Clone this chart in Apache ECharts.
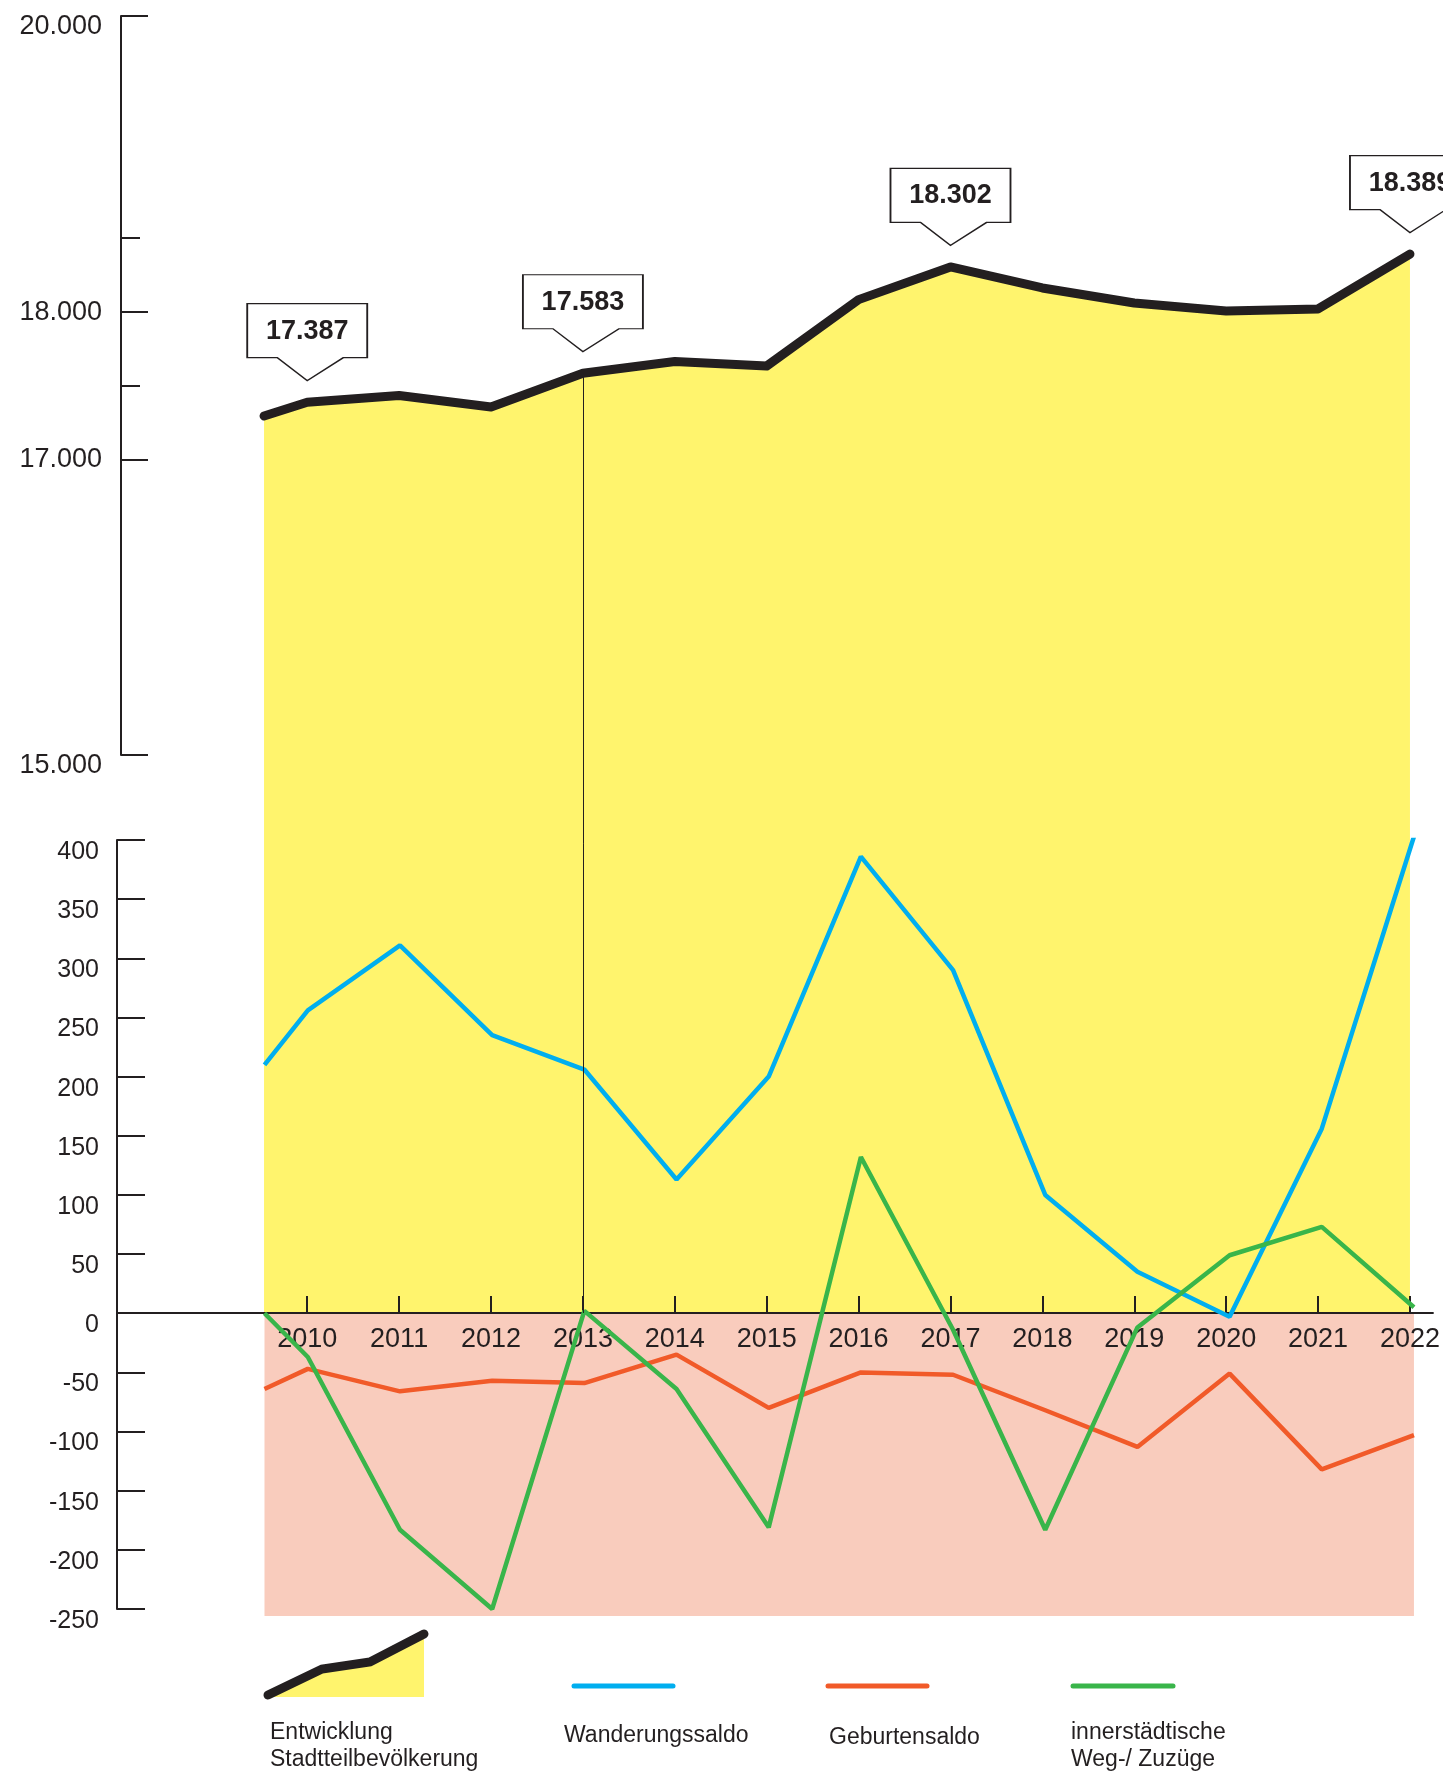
<!DOCTYPE html>
<html>
<head>
<meta charset="utf-8">
<title>Entwicklung Stadtteilbevölkerung</title>
<script src="https://cdn.jsdelivr.net/npm/echarts@6/dist/echarts.min.js"></script>
<style>
html, body { margin: 0; padding: 0; background: #fff; }
#chart { width: 1443px; height: 1772px; }
</style>
</head>
<body>
<div id="chart"></div>
<script>
// first point is the starting value just before 2010
const xValues = [2009.53, 2010, 2011, 2012, 2013, 2014, 2015, 2016, 2017, 2018, 2019, 2020, 2021, 2022];
const yearTicks = [2010, 2011, 2012, 2013, 2014, 2015, 2016, 2017, 2018, 2019, 2020, 2021, 2022];

const population = [17294, 17387, 17432, 17355, 17583, 17662, 17632, 18081, 18302, 18160, 18058, 18004, 18018, 18389];
const migration  = [210, 256, 311, 235, 206, 113, 200, 386, 290, 100, 35, -3, 156, 403];
const births     = [-64, -47, -66, -57, -59, -35, -80, -50, -52, -82, -113, -51, -132, -103];
const intracity  = [0, -37, -183, -250, 2, -64, -181, 132, -14, -183, -12, 49, 73, 5];

const popTicks = [15000, 17000, 18000, 20000];
const popMinorTicks = [17500, 18500];
const calloutYears = [2010, 2013, 2017, 2022];
const markerYear = 2013;
const bandBottom = -256;

const INK = '#231f20';
const YELLOW = '#fff46d';
const PINK = '#f9ccbd';
const BLUE = '#00aeef';
const RED = '#f15a29';
const GREEN = '#39b54a';
const FONT = '"Liberation Sans", Arial, Helvetica, sans-serif';

const fmt = n => String(n).replace(/\B(?=(\d{3})+(?!\d))/g, '.');
const popAt = y => population[xValues.indexOf(y)];
const pairs = arr => xValues.map((x, i) => [x, arr[i]]);

// layout
const gridA = { left: 121, top: 16, width: 1316, height: 739 };   // visible population axis
const gridB = { left: 117, top: 16, width: 1320, height: 1297 };  // yellow area down to zero line + year axis
const gridC = { left: 117, top: 840, width: 1320, height: 769 };  // saldo lines
const gridD = { left: 117, top: 1313, width: 1320, height: 303 }; // pink band below zero
const xMin = 2007.93, xMax = 2022.25;
const popMin = 15000, popMax = 20000;
const popFloor = popMax - (popMax - popMin) * gridB.height / gridA.height;

const axisInk = { color: INK, width: 2 };
const hiddenX = i => ({ gridIndex: i, type: 'value', min: xMin, max: xMax, show: false });

const chart = echarts.init(document.getElementById('chart'));

chart.setOption({
    animation: false,
    backgroundColor: '#fff',
    textStyle: { fontFamily: FONT },
    grid: [gridA, gridB, gridC, gridD],
    xAxis: [
        hiddenX(0),
        {
            gridIndex: 1, type: 'value', min: xMin, max: xMax, position: 'bottom', z: 3,
            axisLine: { onZero: false, lineStyle: axisInk },
            axisTick: { inside: true, length: 17, customValues: yearTicks, lineStyle: axisInk },
            axisLabel: {
                customValues: yearTicks, formatter: v => String(v),
                margin: 13, fontSize: 27, color: INK, fontFamily: FONT
            },
            splitLine: { show: false }
        },
        hiddenX(2),
        hiddenX(3)
    ],
    yAxis: [
        {
            gridIndex: 0, type: 'value', min: popMin, max: popMax, position: 'left',
            axisLine: { show: true, lineStyle: axisInk },
            axisTick: { show: true, inside: true, length: 27, customValues: popTicks, lineStyle: axisInk },
            axisLabel: {
                customValues: popTicks, margin: 19, color: INK, fontFamily: FONT,
                formatter: v => (v === popMin || v === popMax) ? '{edge|' + fmt(v) + '}' : '{mid|' + fmt(v) + '}',
                rich: {
                    edge: { fontSize: 27, color: INK, fontFamily: FONT, padding: [21, 0, 0, 0] },
                    mid: { fontSize: 27, color: INK, fontFamily: FONT, padding: [1, 0, 0, 0] }
                }
            },
            splitLine: { show: false }
        },
        {
            gridIndex: 0, type: 'value', min: popMin, max: popMax, position: 'left',
            axisLine: { show: false },
            axisTick: { show: true, inside: true, length: 19, customValues: popMinorTicks, lineStyle: axisInk },
            axisLabel: { show: false },
            splitLine: { show: false }
        },
        { gridIndex: 1, type: 'value', min: popFloor, max: popMax, show: false },
        {
            gridIndex: 2, type: 'value', min: -250, max: 400, interval: 50,
            axisLine: { show: true, onZero: false, lineStyle: axisInk },
            axisTick: { show: true, inside: true, length: 28, lineStyle: axisInk },
            axisLabel: {
                margin: 18, color: INK, fontFamily: FONT,
                formatter: v => '{v|' + v + '}',
                rich: { v: { fontSize: 25, color: INK, fontFamily: FONT, padding: [24, 0, 0, 0] } }
            },
            splitLine: { show: false }
        },
        { gridIndex: 3, type: 'value', min: bandBottom, max: 0, show: false }
    ],
    series: [
        {
            name: 'Entwicklung Stadtteilbevölkerung',
            type: 'line', xAxisIndex: 1, yAxisIndex: 2, z: 1,
            data: pairs(population),
            showSymbol: false,
            lineStyle: { color: INK, width: 9, cap: 'round', join: 'round' },
            areaStyle: { color: YELLOW, opacity: 1, origin: 'start' },
            markLine: {
                silent: true, symbol: ['none', 'none'],
                label: { show: false },
                lineStyle: { color: INK, width: 1, type: 'solid' },
                data: [[{ coord: [markerYear, popAt(markerYear)] }, { coord: [markerYear, popFloor] }]]
            },
            markPoint: {
                silent: true,
                symbol: 'path://M0,0 L120,0 L120,54 L96,54 L60,77 L30,54 L0,54 Z',
                symbolSize: [120, 77],
                symbolOffset: [0, -60],
                itemStyle: { color: '#fff', borderColor: INK, borderWidth: 1.5 },
                label: {
                    show: true, position: 'inside', offset: [0, -11],
                    formatter: p => fmt(p.value),
                    fontSize: 27, fontWeight: 'bold', color: INK, fontFamily: FONT
                },
                data: calloutYears.map(y => ({ coord: [y, popAt(y)], value: popAt(y) }))
            }
        },
        {
            name: 'Negativbereich', type: 'line', xAxisIndex: 3, yAxisIndex: 4, z: 1,
            data: [], showSymbol: false, silent: true,
            markArea: {
                silent: true,
                itemStyle: { color: PINK, opacity: 1 },
                data: [[{ coord: [xValues[0], 0] }, { coord: [xValues[xValues.length - 1], bandBottom] }]]
            }
        },
        {
            name: 'Wanderungssaldo', type: 'line', xAxisIndex: 2, yAxisIndex: 3, z: 4,
            data: pairs(migration), showSymbol: false,
            lineStyle: { color: BLUE, width: 4.5 }
        },
        {
            name: 'Geburtensaldo', type: 'line', xAxisIndex: 2, yAxisIndex: 3, z: 4,
            data: pairs(births), showSymbol: false,
            lineStyle: { color: RED, width: 4.5 }
        },
        {
            name: 'innerstädtische Weg-/ Zuzüge', type: 'line', xAxisIndex: 2, yAxisIndex: 3, z: 4,
            data: pairs(intracity), showSymbol: false,
            lineStyle: { color: GREEN, width: 4.5 }
        }
    ],
    // legend drawn below the chart: icon above, caption underneath
    graphic: [
        { type: 'polygon', shape: { points: [[268, 1697], [322, 1669], [370, 1662], [424, 1634], [424, 1697]] }, style: { fill: YELLOW } },
        { type: 'polyline', shape: { points: [[268, 1695], [322, 1669], [370, 1662], [424, 1634]] }, style: { stroke: INK, lineWidth: 9, lineCap: 'round', fill: null } },
        { type: 'line', shape: { x1: 574, y1: 1686, x2: 673, y2: 1686 }, style: { stroke: BLUE, lineWidth: 5, lineCap: 'round' } },
        { type: 'line', shape: { x1: 828, y1: 1686, x2: 927, y2: 1686 }, style: { stroke: RED, lineWidth: 5, lineCap: 'round' } },
        { type: 'line', shape: { x1: 1073, y1: 1686, x2: 1173, y2: 1686 }, style: { stroke: GREEN, lineWidth: 5, lineCap: 'round' } },
        { type: 'text', x: 270, y: 1719, style: { text: 'Entwicklung\nStadtteilbevölkerung', font: '23px ' + FONT, lineHeight: 27, fill: INK, verticalAlign: 'top' } },
        { type: 'text', x: 564, y: 1722, style: { text: 'Wanderungssaldo', font: '23px ' + FONT, lineHeight: 27, fill: INK, verticalAlign: 'top' } },
        { type: 'text', x: 829, y: 1724, style: { text: 'Geburtensaldo', font: '23px ' + FONT, lineHeight: 27, fill: INK, verticalAlign: 'top' } },
        { type: 'text', x: 1071, y: 1719, style: { text: 'innerstädtische\nWeg-/ Zuzüge', font: '23px ' + FONT, lineHeight: 27, fill: INK, verticalAlign: 'top' } }
    ]
});
</script>
</body>
</html>
